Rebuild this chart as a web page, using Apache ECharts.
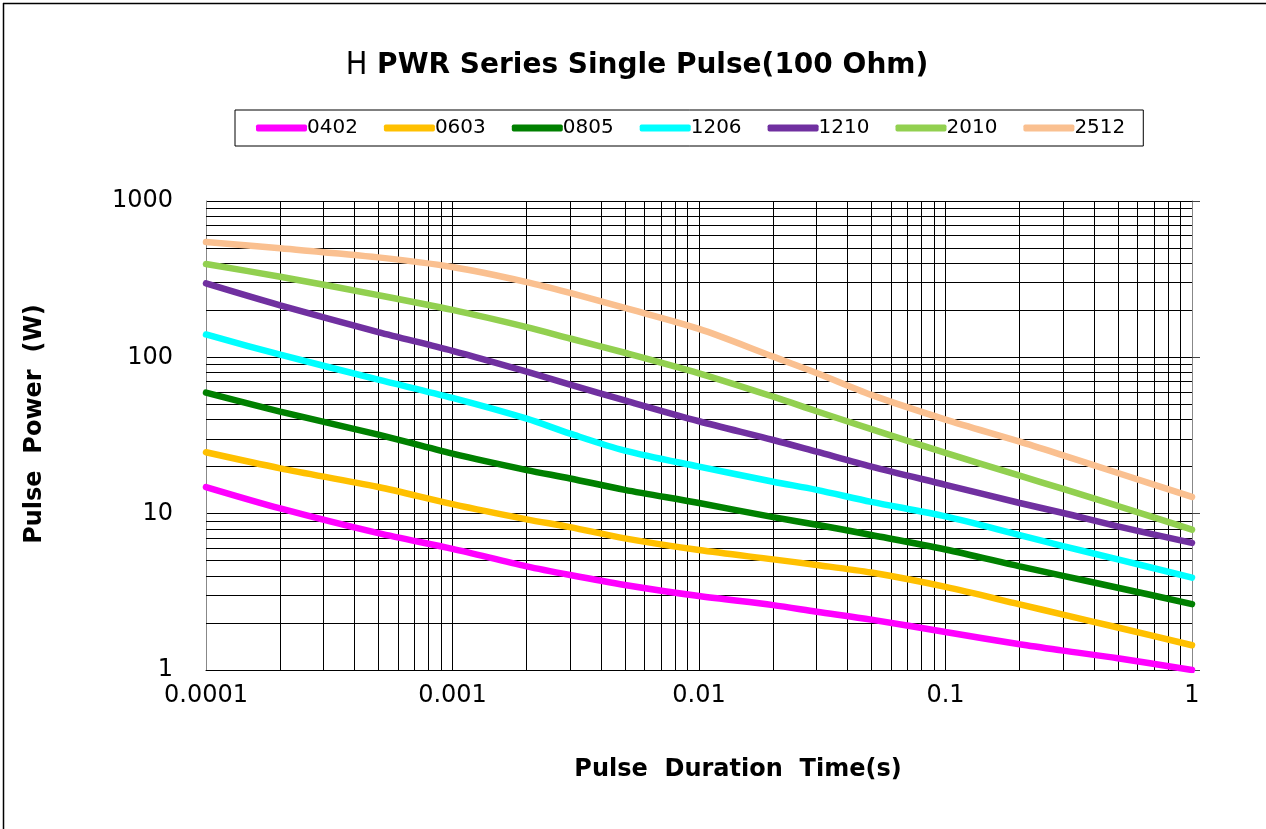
<!DOCTYPE html>
<html>
<head>
<meta charset="utf-8">
<script src="https://cdn.jsdelivr.net/npm/echarts@6/dist/echarts.min.js"></script>
<style>
html,body{margin:0;padding:0;background:#fff;}
#chart{width:1266px;height:829px;}
</style>
</head>
<body>
<div id="chart"></div>
<script>
// ---- data ----
const times = [0.0001,0.0002,0.0005,0.001,0.002,0.003,0.005,0.01,0.02,0.03,0.05,0.1,0.2,0.3,0.5,1];
const p0402 = [14.8,10.8,7.5,5.95,4.6,4.05,3.5,2.97,2.6,2.36,2.1,1.75,1.46,1.33,1.19,1.0];
const p0603 = [24.7,19.5,14.8,11.5,9.2,8.2,6.95,5.85,5.1,4.7,4.2,3.4,2.63,2.26,1.87,1.44];
const p0805 = [59.5,45,32,24.2,19,16.8,14.2,11.7,9.5,8.5,7.3,5.9,4.6,4.0,3.36,2.64];
const p1206 = [140,104,72,55,40.5,32.5,25.3,20,16,14.2,11.9,9.6,7.3,6.2,5.1,3.9];
const p1210 = [297,215,145,110,81,67,53,39,29.6,24.9,20,15.3,11.7,10.1,8.3,6.5];
const p2010 = [395,328,250,201,156,132,107,79,56,45.2,34.7,24.5,17.5,14.4,11.2,7.9];
const p2512 = [547,498,436,378,303,258,207,152,101,79.4,57.5,40,28.9,23.6,18.2,12.8];
const seriesNames = ['0402','0603','0805','1206','1210','2010','2512'];
const seriesValues = [p0402,p0603,p0805,p1206,p1210,p2010,p2512];
const seriesColors = ['#FF00FF','#FFC000','#008000','#00FFFF','#7030A0','#92D050','#FAC090'];
const xTickLabels = ['0.0001','0.001','0.01','0.1','1'];
const yTickLabels = ['1','10','100','1000'];
const minorMultipliers = [2,3,4,5,6,7,8,9];
const xDecades = [0.0001,0.001,0.01,0.1];
const yDecades = [1,10,100];

const FONT = 'DejaVu Sans';
const xMinor = [];
xDecades.forEach(d => minorMultipliers.forEach(m => xMinor.push(+(d*m).toPrecision(3))));
const yMinor = [];
yDecades.forEach(d => minorMultipliers.forEach(m => yMinor.push(d*m)));

const gridMarks = xMinor.map(v => ({xAxis: v})).concat(yMinor.map(v => ({yAxis: v})));

const series = seriesNames.map((n, i) => ({
  name: n,
  type: 'line',
  data: times.map((t, j) => [t, seriesValues[i][j]]),
  smooth: 0.3,
  symbol: 'none',
  z: 4,
  lineStyle: {color: seriesColors[i], width: 6.5, cap: 'round'},
  itemStyle: {color: seriesColors[i]}
}));
series.push({
  name: 'grid',
  type: 'line',
  data: [],
  silent: true,
  z: 1,
  markLine: {
    silent: true, symbol: 'none', z: 1, animation: false, precision: 10,
    label: {show: false},
    lineStyle: {color: '#000', width: 1, type: 'solid'},
    emphasis: {disabled: true},
    data: gridMarks
  }
});

const chart = echarts.init(document.getElementById('chart'));
chart.setOption({
  animation: false,
  backgroundColor: '#fff',
  textStyle: {fontFamily: FONT},
  grid: {left: 206, right: 74, top: 201, bottom: 159, containLabel: false},
  legend: {
    data: seriesNames.map(n => ({name: n, icon: 'roundRect'})),
    left: 235, top: 110,
    padding: [8, 18, 8, 21],
    itemGap: 26,
    itemWidth: 51, itemHeight: 7,
    borderColor: '#000', borderWidth: 1,
    textStyle: {fontFamily: FONT, fontSize: 20, color: '#000', padding: [0,0,0,-5]}
  },
  xAxis: {
    type: 'log', logBase: 10, min: 0.0001, max: 1,
    axisLine: {show: true, lineStyle: {color: '#000', width: 1}},
    axisTick: {show: false},
    splitLine: {show: true, lineStyle: {color: '#000', width: 1}},
    axisLabel: {
      margin: 14, fontFamily: FONT, fontSize: 24, color: '#000',
      formatter: v => xTickLabels[Math.round(Math.log10(v)) + 4] || ''
    }
  },
  yAxis: [{
    type: 'log', logBase: 10, min: 1, max: 1000,
    axisLine: {show: true, lineStyle: {color: '#888', width: 1}},
    axisTick: {show: false},
    splitLine: {show: true, lineStyle: {color: '#000', width: 1}},
    axisLabel: {
      margin: 33, fontFamily: FONT, fontSize: 24, color: '#000',
      formatter: v => yTickLabels[Math.round(Math.log10(v))] || ''
    }
  }, {
    type: 'log', logBase: 10, min: 1, max: 1000, position: 'right',
    axisLine: {show: true, lineStyle: {color: '#888', width: 1}},
    axisTick: {show: true, inside: false, length: 8, lineStyle: {color: '#444'}},
    axisLabel: {show: false},
    splitLine: {show: false}
  }],
  graphic: [
    {type: 'line', shape: {x1: 3, y1: 3.5, x2: 1266, y2: 3.5}, style: {stroke: '#000', lineWidth: 1.5}, silent: true},
    {type: 'line', shape: {x1: 3.5, y1: 3, x2: 3.5, y2: 829}, style: {stroke: '#000', lineWidth: 1.5}, silent: true},
    {type: 'text', x: 637, y: 66, style: {
      text: '{h|H} PWR Series Single Pulse(100 Ohm)',
      align: 'center', verticalAlign: 'middle',
      font: 'bold 28px "DejaVu Sans"', fill: '#000',
      rich: {h: {fontFamily: '"DejaVu Sans Condensed", "Liberation Sans"', fontWeight: 'normal', fontSize: 32, fill: '#000'}}
    }},
    {type: 'text', x: 738, y: 770, style: {
      text: 'Pulse  Duration  Time(s)', align: 'center', verticalAlign: 'middle',
      font: 'bold 24px "DejaVu Sans"', fill: '#000'
    }},
    {type: 'text', x: 35, y: 424, rotation: Math.PI / 2, style: {
      text: 'Pulse  Power  (W)', align: 'center', verticalAlign: 'middle',
      font: 'bold 24px "DejaVu Sans"', fill: '#000'
    }}
  ],
  series: series
});
</script>
</body>
</html>
